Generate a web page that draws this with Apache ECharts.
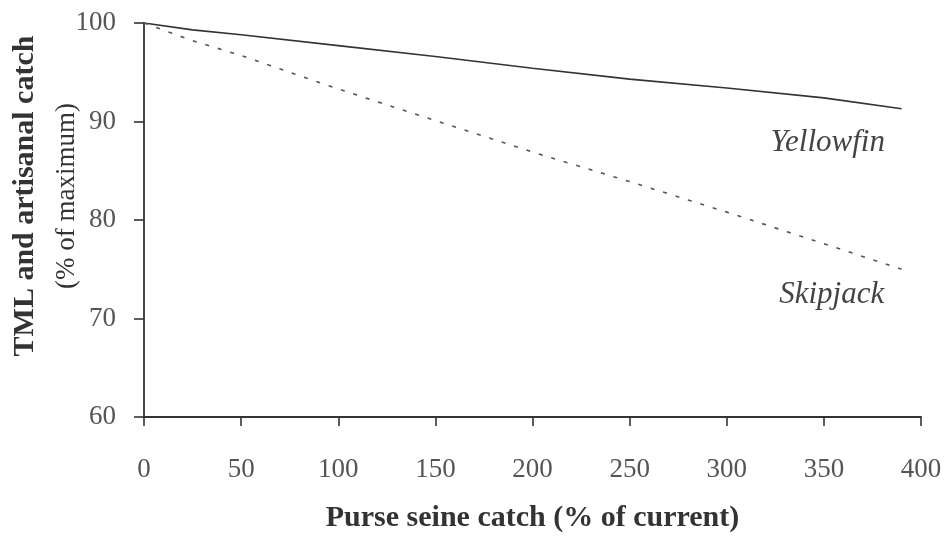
<!DOCTYPE html>
<html>
<head>
<meta charset="utf-8">
<script src="https://cdn.jsdelivr.net/npm/echarts@6/dist/echarts.min.js"></script>
<style>
  html, body { margin: 0; padding: 0; background: #fff; }
  #chart { width: 947px; height: 545px; }
</style>
</head>
<body>
<div id="chart"></div>
<script>
// Purse seine catch, % of current level
const purseSeine = [0, 25, 50, 100, 150, 200, 250, 300, 350, 390];
// TML and artisanal catch, % of maximum
const yellowfin = [100, 99.3, 98.8, 97.7, 96.6, 95.4, 94.3, 93.4, 92.4, 91.3];
const skipjack  = [100, 98.2, 96.7, 93.3, 90.1, 86.9, 83.9, 80.8, 77.6, 75.0];
const xTicks = [0, 50, 100, 150, 200, 250, 300, 350, 400];
const yTicks = [60, 70, 80, 90, 100];

const serif = '"Liberation Serif", "Times New Roman", serif';
const ink = '#333';
const toPairs = ys => purseSeine.map((x, i) => [x, ys[i]]);

const chart = echarts.init(document.getElementById('chart'), null, { renderer: 'canvas' });
chart.setOption({
  backgroundColor: '#fff',
  animation: false,
  grid: { left: 144, right: 26, top: 23, bottom: 128, outerBoundsMode: 'none', containLabel: false },
  xAxis: {
    type: 'value',
    min: xTicks[0], max: xTicks[xTicks.length - 1], interval: 50,
    name: 'Purse seine catch (% of current)',
    nameLocation: 'middle', nameGap: 86, nameMoveOverlap: false,
    nameTextStyle: { fontFamily: serif, fontSize: 30, fontWeight: 'bold', color: ink },
    axisLine: { lineStyle: { color: ink, width: 1.8 } },
    axisTick: { show: true, inside: false, length: 9, lineStyle: { color: ink, width: 1.6 } },
    axisLabel: { margin: 39, fontFamily: serif, fontSize: 27, color: '#555' },
    splitLine: { show: false }
  },
  yAxis: {
    type: 'value',
    min: yTicks[0], max: yTicks[yTicks.length - 1], interval: 10,
    name: '{a|TML and artisanal catch}\n{b|(% of maximum)}',
    nameLocation: 'middle', nameRotate: 90, nameGap: 57, nameMoveOverlap: false,
    nameTextStyle: {
      padding: [0, 0, 0, 48],
      rich: {
        a: { fontFamily: serif, fontSize: 30, fontWeight: 'bold', color: ink, lineHeight: 41 },
        b: { fontFamily: serif, fontSize: 27, color: ink, lineHeight: 41 }
      }
    },
    axisLine: { show: true, lineStyle: { color: ink, width: 1.8 } },
    axisTick: { show: true, inside: false, length: 10, lineStyle: { color: ink, width: 1.6 } },
    axisLabel: { margin: 28, fontFamily: serif, fontSize: 27, color: '#555' },
    splitLine: { show: false }
  },
  series: [
    {
      name: 'Yellowfin',
      type: 'line',
      data: toPairs(yellowfin),
      showSymbol: false,
      smooth: false,
      lineStyle: { color: '#333', width: 1.6, type: 'solid' },
      markPoint: {
        symbol: 'circle', symbolSize: 0, silent: true,
        data: [{ coord: [352, 87.8] }],
        label: {
          show: true, position: 'inside', formatter: 'Yellowfin',
          fontFamily: serif, fontSize: 31, fontStyle: 'italic', color: '#444'
        }
      }
    },
    {
      name: 'Skipjack',
      type: 'line',
      data: toPairs(skipjack),
      showSymbol: false,
      smooth: false,
      lineStyle: { color: '#555', width: 1.6, type: [4, 9] },
      markPoint: {
        symbol: 'circle', symbolSize: 0, silent: true,
        data: [{ coord: [354, 72.4] }],
        label: {
          show: true, position: 'inside', formatter: 'Skipjack',
          fontFamily: serif, fontSize: 31, fontStyle: 'italic', color: '#444'
        }
      }
    }
  ]
});
</script>
</body>
</html>
